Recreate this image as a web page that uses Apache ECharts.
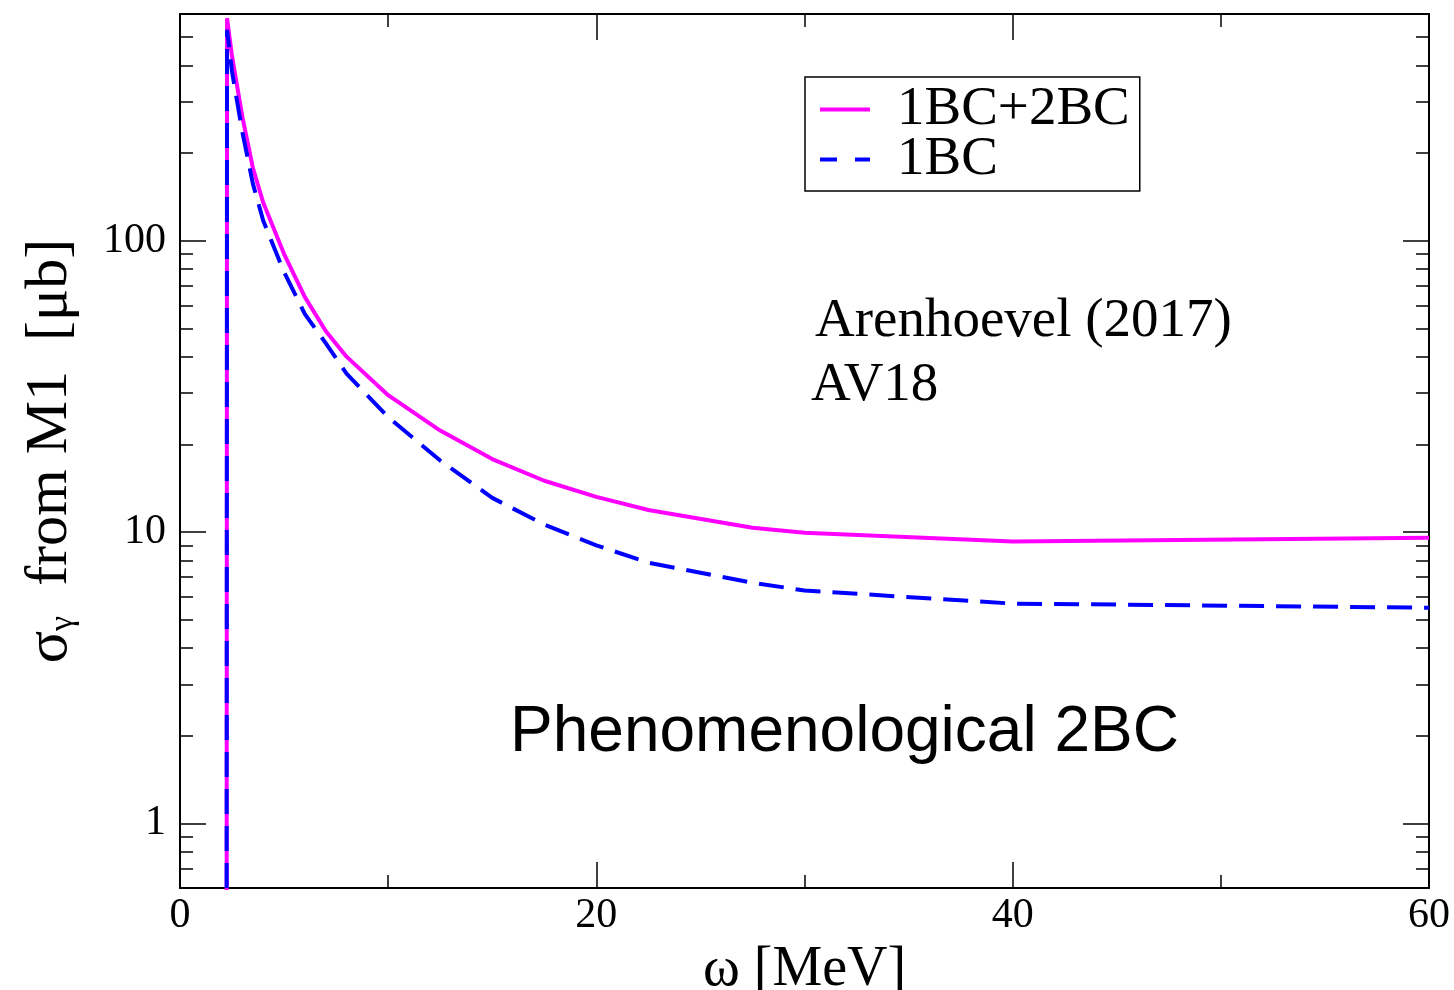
<!DOCTYPE html>
<html>
<head>
<meta charset="utf-8">
<script src="https://cdn.jsdelivr.net/npm/echarts@6/dist/echarts.min.js"></script>
<style>
html,body{margin:0;padding:0;background:#fff;}
#chart{width:1454px;height:990px;}
</style>
</head>
<body>
<div id="chart"></div>
<script>
// ---- data ----
const energies = [2.23, 2.26, 2.5, 3.0, 3.5, 4.0, 5.0, 6.0, 7.0, 8.0, 10.0, 12.5, 15.0, 17.5, 20.0, 22.5, 27.5, 30.0, 40.0, 60.0];
const sigmaTotal = [0.01, 580, 430, 265, 178, 135, 90, 64, 49, 40, 29.5, 22.3, 17.8, 15.0, 13.2, 11.9, 10.35, 9.95, 9.28, 9.55];
const sigma1BC   = [0.01, 530, 380, 235, 157, 117, 78, 56, 44.5, 35, 24.8, 17.6, 13.1, 10.6, 9.0, 7.85, 6.7, 6.3, 5.68, 5.5];
const seriesNames = ['1BC+2BC', '1BC'];
const xTicks = [0, 20, 40, 60];
const yMajorTicks = [1, 10, 100];
const yMinorTicks = [0.7, 0.8, 0.9, 2, 3, 4, 5, 6, 7, 8, 9, 20, 30, 40, 50, 60, 70, 80, 90, 200, 300, 400, 500];
const xTitle = 'ω [MeV]';
const annotations = ['Arenhoevel (2017)', 'AV18', 'Phenomenological 2BC'];

function pairs(xs, ys) { return xs.map((x, i) => [x, ys[i]]); }

const serif = 'Liberation Serif';
const black = '#000';

function xAxisCfg(pos, showLabel) {
  return {
    type: 'value', position: pos, min: xTicks[0], max: xTicks[xTicks.length - 1], interval: xTicks[1] - xTicks[0],
    axisLine: { show: true, onZero: false, lineStyle: { color: black, width: 2 } },
    axisTick: { show: true, inside: true, length: 26, lineStyle: { color: black, width: 1.5 } },
    minorTick: { show: true, splitNumber: 2, length: 13, lineStyle: { color: black, width: 1.5 } },
    axisLabel: { show: showLabel, color: black, fontFamily: serif, fontSize: 42, margin: 7 },
    splitLine: { show: false }, minorSplitLine: { show: false },
    name: showLabel ? xTitle : '', nameLocation: 'middle', nameGap: 44,
    nameTextStyle: { color: black, fontFamily: serif, fontSize: 56 }
  };
}
function yAxisCfg(pos, ticks, len, showLabel, showLine, withName) {
  const cfg = {
    type: 'log', logBase: 10, position: pos, min: 0.6, max: 600,
    axisLine: { show: showLine, onZero: false, lineStyle: { color: black, width: 2 } },
    axisTick: { show: true, inside: true, length: len, customValues: ticks, lineStyle: { color: black, width: 1.5 } },
    axisLabel: { show: showLabel, customValues: showLabel ? ticks : undefined, color: black, fontFamily: serif, fontSize: 42, margin: 14 },
    splitLine: { show: false }
  };
  if (withName) {
    cfg.name = '{s|σ}{g|γ}{s|  from M1  [μb]}';
    cfg.nameLocation = 'middle';
    cfg.nameGap = 100;
    cfg.nameTextStyle = {
      color: black, fontFamily: serif, fontSize: 60,
      rich: {
        s: { fontFamily: serif, fontSize: 60, lineHeight: 60, verticalAlign: 'top', color: black },
        g: { fontFamily: serif, fontSize: 34, lineHeight: 34, verticalAlign: 'bottom', padding: [34, 0, 0, 0], color: black }
      }
    };
  }
  return cfg;
}

const chart = echarts.init(document.getElementById('chart'), null, { renderer: 'canvas' });
chart.setOption({
  backgroundColor: '#fff',
  animation: false,
  grid: { left: 180, top: 14, right: 25, bottom: 102, containLabel: false, outerBoundsMode: 'none' },
  xAxis: [xAxisCfg('bottom', true), xAxisCfg('top', false)],
  yAxis: [
    yAxisCfg('left', yMajorTicks, 26, true, true, true),
    yAxisCfg('left', yMinorTicks, 13, false, false, false),
    yAxisCfg('right', yMajorTicks, 26, false, true, false),
    yAxisCfg('right', yMinorTicks, 13, false, false, false)
  ],
  legend: {
    orient: 'vertical', left: 805, top: 77,
    data: [
      { name: seriesNames[0], icon: 'path://M0,0h50v4h-50z' },
      { name: seriesNames[1], icon: 'path://M0,0h17v4h-17z M35,0h15v4h-15z' }
    ],
    itemWidth: 50, itemHeight: 4, itemGap: -5,
    borderColor: black, borderWidth: 1.5, borderRadius: 0,
    padding: [5, 10, 4, 15],
    textStyle: { color: black, fontFamily: serif, fontSize: 55, padding: [0, 0, 0, 22] }
  },
  graphic: [
    { type: 'text', style: { text: annotations[0], x: 815, y: 322, font: '55px "Liberation Serif"', fill: black, textVerticalAlign: 'middle' } },
    { type: 'text', style: { text: annotations[1], x: 811, y: 386, font: '55px "Liberation Serif"', fill: black, textVerticalAlign: 'middle' } },
    { type: 'text', style: { text: annotations[2], x: 510, y: 733, font: '64px "Liberation Sans"', fill: black, textVerticalAlign: 'middle' } }
  ],
  series: [
    {
      name: seriesNames[0], type: 'line', xAxisIndex: 0, yAxisIndex: 0,
      data: pairs(energies, sigmaTotal), symbol: 'none', clip: true,
      lineStyle: { color: '#ff00ff', width: 4 }, itemStyle: { color: '#ff00ff' }
    },
    {
      name: seriesNames[1], type: 'line', xAxisIndex: 0, yAxisIndex: 0,
      data: pairs(energies, sigma1BC), symbol: 'none', clip: true,
      lineStyle: { color: '#0000ff', width: 4, type: [25, 12] }, itemStyle: { color: '#0000ff' }
    }
  ]
});
</script>
</body>
</html>
